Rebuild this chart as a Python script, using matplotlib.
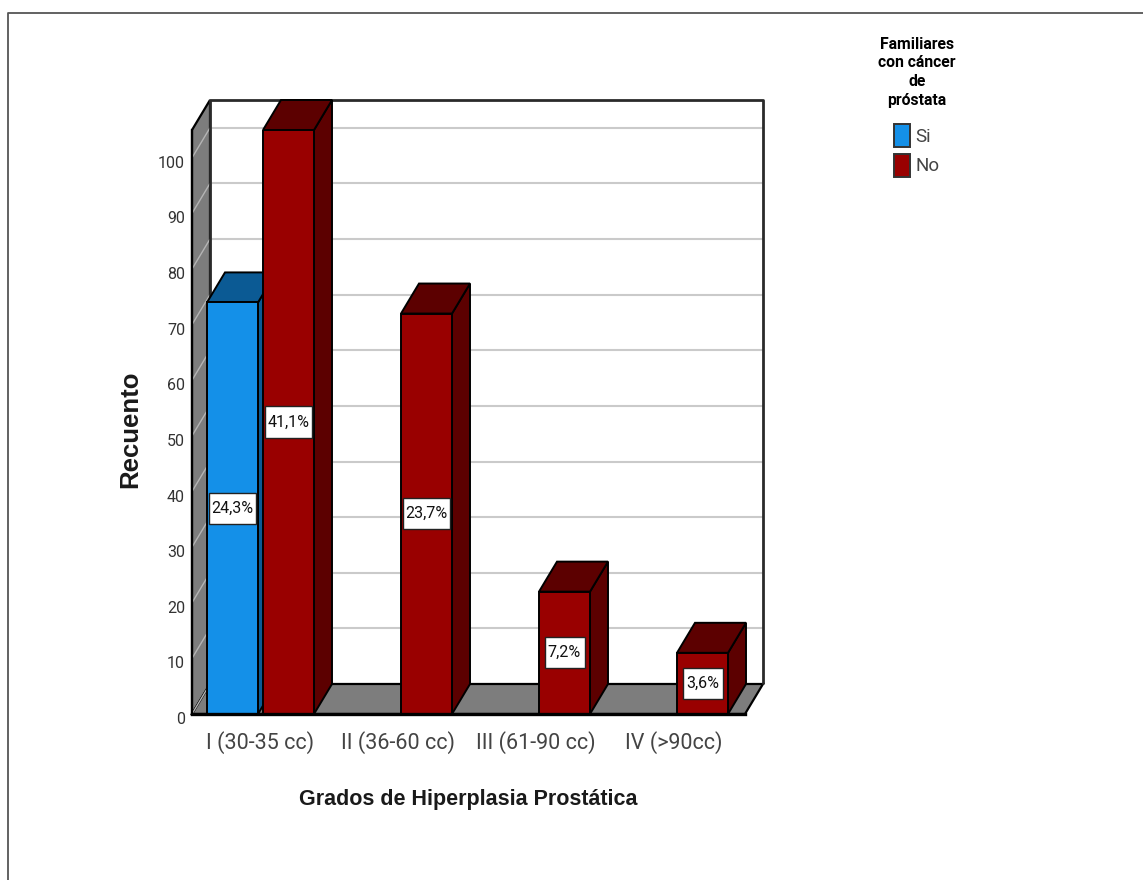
import matplotlib
matplotlib.use("Agg")
import matplotlib.pyplot as plt
from matplotlib.lines import Line2D
from matplotlib.patches import Patch, Polygon, Rectangle
from matplotlib.transforms import ScaledTranslation

categories = ["I (30-35 cc)", "II (36-60 cc)", "III (61-90 cc)", "IV (>90cc)"]
si_counts = [74]
si_pct = ["24,3%"]
no_counts = [105, 72, 22, 11]
no_pct = ["41,1%", "23,7%", "7,2%", "3,6%"]
y_ticks = [0, 10, 20, 30, 40, 50, 60, 70, 80, 90, 100]

BLUE = "#1490e8"
BLUE_DARK = "#0b5a94"
RED = "#990000"
RED_DARK = "#5c0000"
GREY = "#7d7d7d"
TEXT = "#333333"
FONT = "Roboto"

W, H = 1143, 880
fig = plt.figure(figsize=(W / 100, H / 100), dpi=100)
ax = fig.add_axes([192 / W, (H - 714) / H, 553 / W, 584 / H])
ax.set_xlim((192 - 260) / 138, (745 - 260) / 138)
ax.set_ylim(0, 105)

# offset of the back plane, in data units
dx = 18 / 138
dy = 30 / 5.56
x0, x1 = ax.get_xlim()
y0, y1 = ax.get_ylim()
bar_w = 51 / 138


def poly(points, color, z, edge="black", lw=1.4):
    ax.add_patch(Polygon(points, closed=True, facecolor=color, edgecolor=edge,
                         linewidth=lw, zorder=z, clip_on=False, joinstyle="miter"))


def wall_line(xs, ys, color, lw, z):
    ax.plot(xs, ys, color=color, lw=lw, zorder=z, clip_on=False, solid_capstyle="butt")


# left wall and floor
poly([(x0, y0), (x0, y1), (x0 + dx, y1 + dy), (x0 + dx, y0 + dy)], GREY, 1, lw=1.6)
poly([(x0, y0), (x1, y0), (x1 + dx, y0 + dy), (x0 + dx, y0 + dy)], GREY, 1, lw=1.6)

# gridlines on the back wall, carried down the left wall
for t in y_ticks:
    if t > 0:
        wall_line([x0 + dx, x1 + dx], [t + dy, t + dy], "#cacaca", 1.5, 1.5)
    wall_line([x0, x0 + dx], [t, t + dy], "#b4b4b4", 1.0, 1.5)

# back wall outline
wall_line([x0 + dx, x0 + dx, x1 + dx, x1 + dx], [y0 + dy, y1 + dy, y1 + dy, y0 + dy], "#2a2a2a", 2.0, 1.8)


def draw_bars(xs, heights, width, color, dark, labels, z):
    for x, h in zip(xs, heights):
        left, right = x, x + width
        # side and top faces of the block
        poly([(right, 0), (right, h), (right + dx, h + dy), (right + dx, dy)], dark, z)
        poly([(left, h), (right, h), (right + dx, h + dy), (left + dx, h + dy)], dark, z)
    bars = ax.bar(xs, heights, width, align="edge", color=color, edgecolor="black",
                  linewidth=1.4, zorder=z + 0.1)
    ax.bar_label(bars, labels=labels, label_type="center", fontsize=11.5, color="#111111",
                 family=FONT, zorder=6)
    # white plate behind each percentage
    for x, h, label in zip(xs, heights, labels):
        box_w = (12 + 7 * len(label)) / 138
        box_h = 31 / 5.56
        ax.add_patch(Rectangle((x + width / 2 - box_w / 2, h / 2 - box_h / 2), box_w, box_h,
                               facecolor="white", edgecolor="#222222", linewidth=1.0, zorder=5))


draw_bars([i - 53 / 138 for i in range(len(si_counts))], si_counts, bar_w, BLUE, BLUE_DARK, si_pct, 2)
draw_bars([i + 3 / 138 for i in range(len(no_counts))], no_counts, bar_w, RED, RED_DARK, no_pct, 3)

ax.set_xticks(range(len(categories)))
ax.set_xticklabels(categories, fontsize=15.5, color="#444444", family=FONT)
ax.set_yticks(y_ticks)
ax.set_yticklabels([str(t) for t in y_ticks], fontsize=11.5, color=TEXT, family=FONT)
ax.tick_params(axis="both", length=0)
ax.tick_params(axis="y", pad=5)
ax.tick_params(axis="x", pad=12)
for label in ax.get_yticklabels():
    label.set_transform(label.get_transform() + ScaledTranslation(0, -4 / 100, fig.dpi_scale_trans))

ax.set_xlabel("Grados de Hiperplasia Prostática", fontsize=15.5, fontweight="bold",
              family="Liberation Sans", color="#1a1a1a")
ax.xaxis.set_label_coords((468 - 192) / 553, -(789 - 714) / 584)
ax.set_ylabel("Recuento", fontsize=18.5, fontweight="bold", family="Liberation Sans", color="#1a1a1a")
ax.yaxis.set_label_coords((142 - 192) / 553, (714 - 429) / 584)

for side in ["top", "right"]:
    ax.spines[side].set_visible(False)
ax.spines["left"].set_linewidth(1.6)
ax.spines["bottom"].set_linewidth(2.4)
ax.spines["left"].set_zorder(5)
ax.spines["bottom"].set_zorder(5)

handles = [Patch(facecolor=BLUE, edgecolor="#333333", linewidth=1.4, label="Si"),
           Patch(facecolor=RED, edgecolor="#333333", linewidth=1.4, label="No")]
leg = fig.legend(handles=handles, title="Familiares\ncon cáncer\nde\npróstata",
                 loc="upper center", bbox_to_anchor=(917 / W, 1 - 20 / H), frameon=False,
                 prop={"family": FONT, "size": 13.5}, labelcolor="#444444",
                 handlelength=0.85, handleheight=1.5, handletextpad=0.28, labelspacing=0.35,
                 title_fontproperties={"family": FONT, "size": 11.3, "weight": "bold"})
leg.get_title().set_multialignment("center")
leg.get_title().set_linespacing(1.3)
# more room between the legend title and its entries
leg._legend_box.sep = 12

# outer frame of the chart window
fig.add_artist(Line2D([7.5 / W, 7.5 / W, 1], [0, 1 - 13.5 / H, 1 - 13.5 / H], color="#555555", lw=1.3))

fig.savefig("out.png", dpi=100)
